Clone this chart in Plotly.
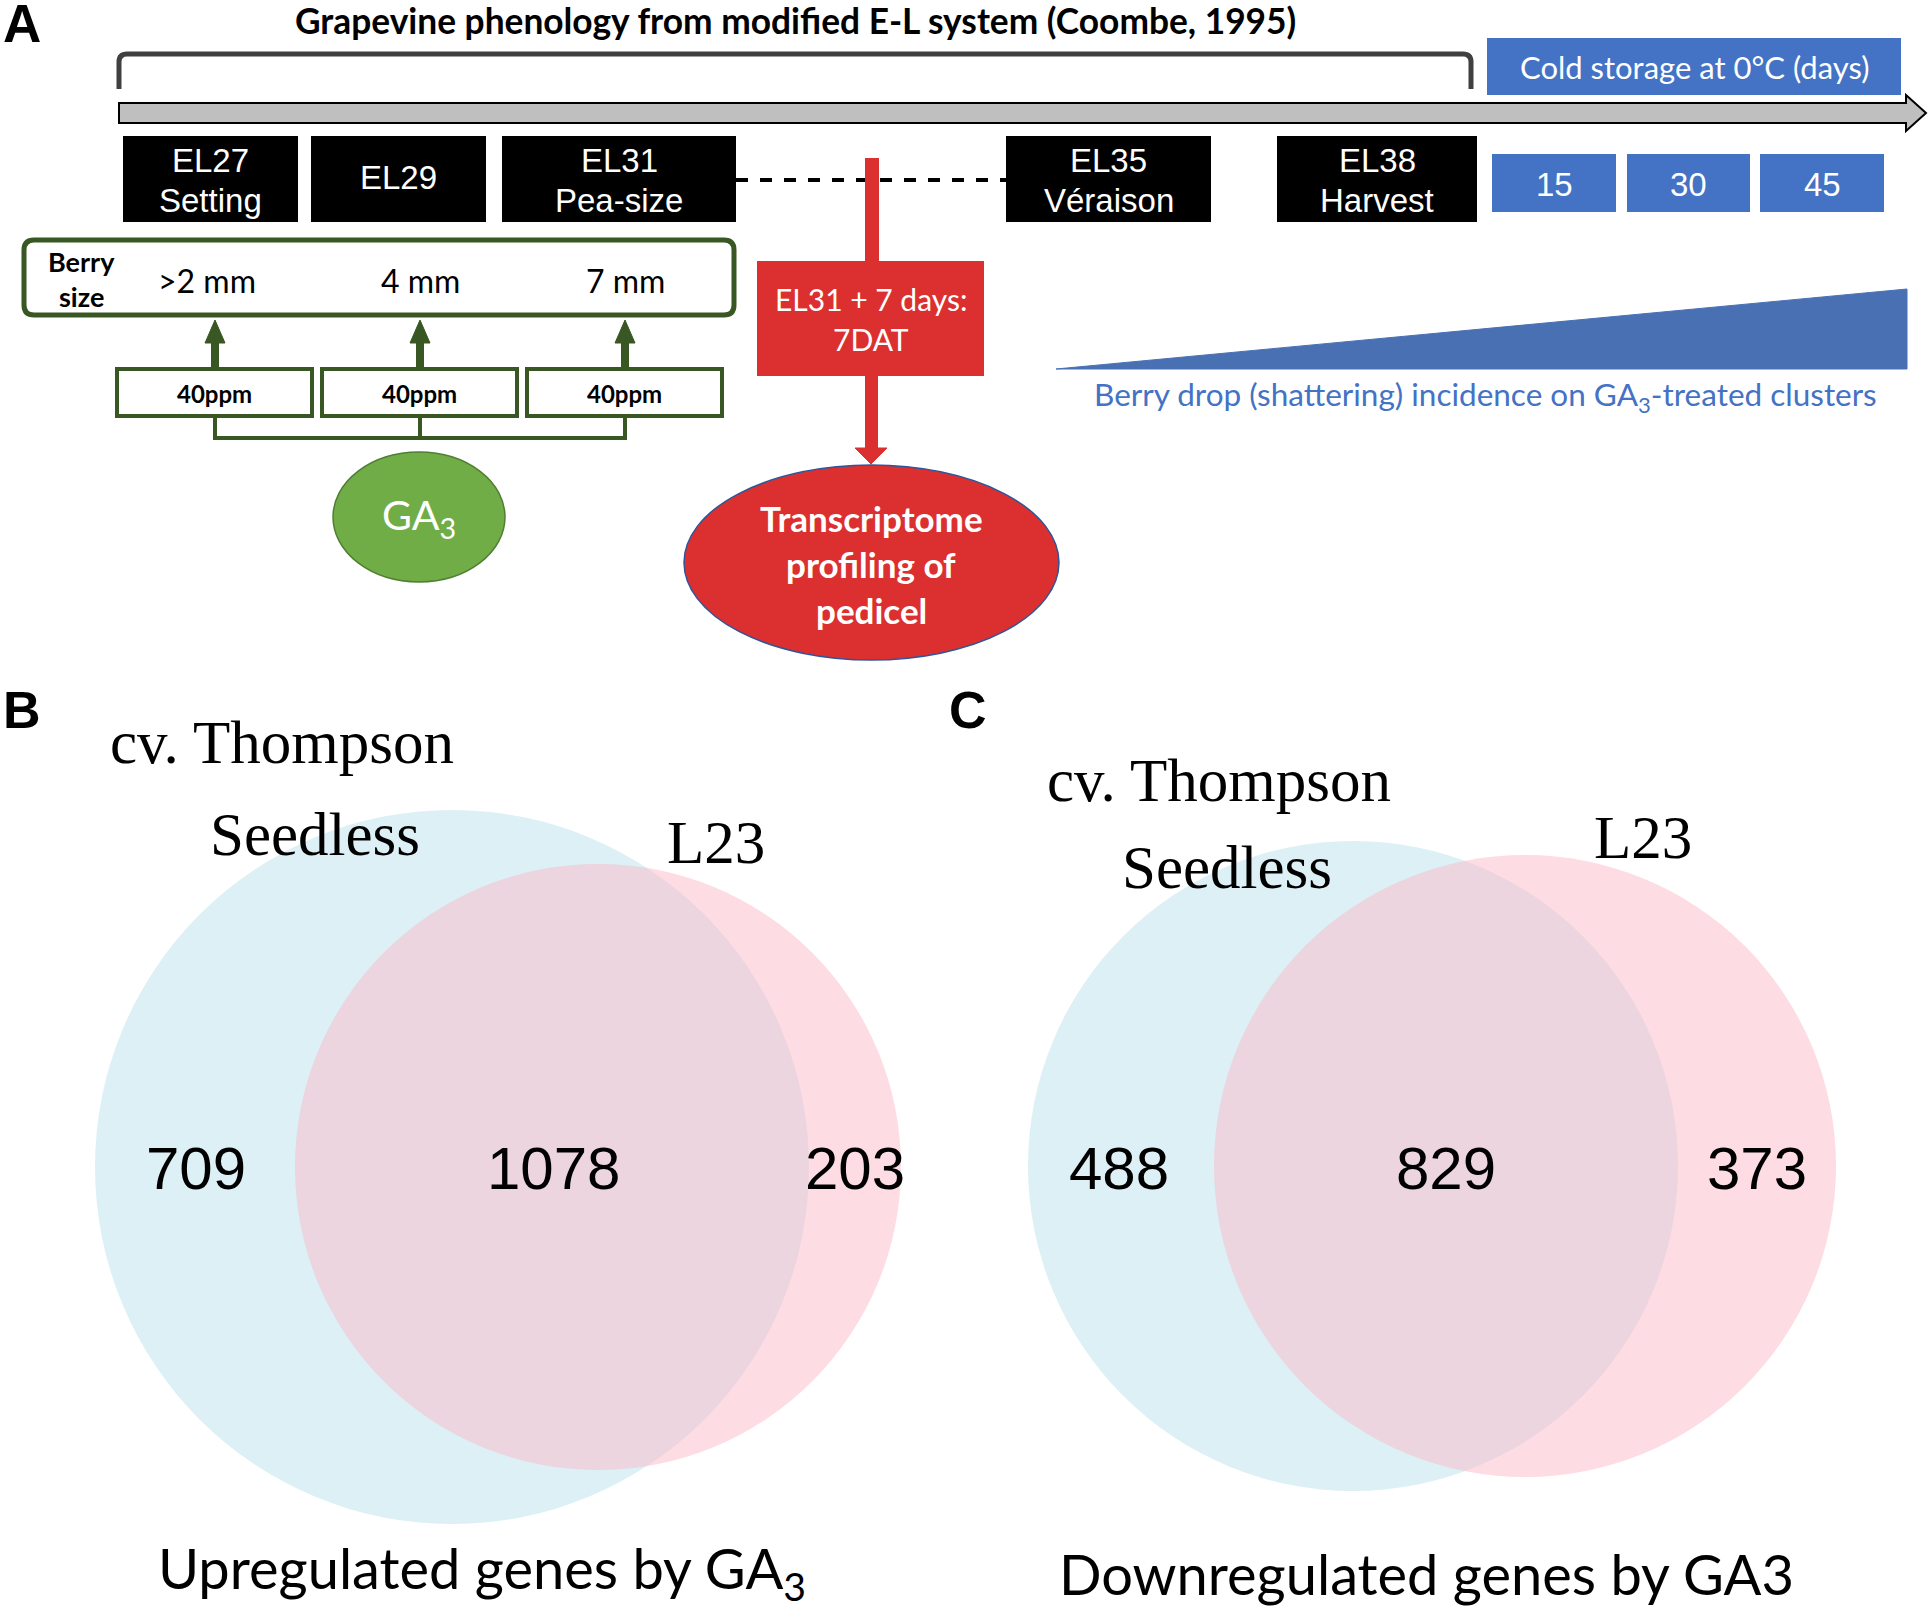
import plotly.graph_objects as go

# ---------------- data ----------------
title_text = "Grapevine phenology from modified E-L system (Coombe, 1995)"
stage_codes = ["EL27", "EL29", "EL31", "EL35", "EL38"]
stage_names = ["Setting", "", "Pea-size", "Véraison", "Harvest"]
storage_days = ["15", "30", "45"]
storage_label = "Cold storage at 0°C (days)"
berry_sizes = [">2 mm", "4 mm", "7 mm"]
ga3_doses = ["40ppm", "40ppm", "40ppm"]
sampling_lines = ["EL31 + 7 days:", "7DAT"]
profiling_lines = ["Transcriptome", "profiling of", "pedicel"]
drop_label = "Berry drop (shattering) incidence on GA<sub>3</sub>-treated clusters"

venn_sets = ["Seedless", "L23"]
venn_up = [709, 1078, 203]      # Seedless only, shared, L23 only
venn_down = [488, 829, 373]
venn_up_title = "Upregulated genes by GA<sub>3</sub>"
venn_down_title = "Downregulated genes by GA3"
cultivar = "cv. Thompson"

# ---------------- layout geometry ----------------
W, H = 1928, 1609
CAL = "Lato"
ARIAL = "Liberation Sans"
TIMES = "Liberation Serif"
DKGREEN = "#385723"
BLUE = "#4472C4"
RED = "#DC3030"

fig = go.Figure()
shapes = []
ann = []


def text(x, y, s, size, color="black", family=CAL, bold=False, xa="center", ya="middle"):
    if bold:
        s = "<b>" + s + "</b>"
    ann.append(dict(x=x, y=y, xref="x", yref="y", text=s, showarrow=False,
                    xanchor=xa, yanchor=ya,
                    font=dict(size=size, color=color, family=family)))


def rect(x0, y0, x1, y1, fill, line=None, lw=0):
    shapes.append(dict(type="rect", x0=x0, y0=y0, x1=x1, y1=y1, xref="x", yref="y",
                       fillcolor=fill, line=dict(color=line or fill, width=lw)))


def path(p, fill=None, line="black", lw=0):
    d = dict(type="path", path=p, xref="x", yref="y", line=dict(color=line, width=lw))
    if fill:
        d["fillcolor"] = fill
    shapes.append(d)


# ---- Panel A ----
text(1, 23, "A", 53, family=ARIAL, bold=True, xa="left")
text(795, 20, title_text, 35.3, bold=True)

# bracket
path("M 119 89 L 119 62 Q 119 54 127 54 L 1463 54 Q 1471 54 1471 62 L 1471 89",
     line="#404040", lw=5)
# grey timeline arrow
path("M 119 103 L 1906 103 L 1906 95 L 1926 113 L 1906 131 L 1906 123 L 119 123 Z",
     fill="#BFBFBF", line="black", lw=2)

# cold storage box
rect(1487, 38, 1901, 95, BLUE)
text(1694, 67, storage_label, 31, color="white")
stor_x = [(1492, 1616), (1627, 1750), (1760, 1884)]
for (x0, x1), d in zip(stor_x, storage_days):
    rect(x0, 154, x1, 212, BLUE)
    text((x0 + x1) / 2, 184, d, 33, color="white", family=ARIAL)

# dashed line between EL31 and EL35
shapes.append(dict(type="line", x0=736, y0=180, x1=1006, y1=180, xref="x", yref="y",
                   line=dict(color="black", width=4, dash="dash")))

# red vertical line
rect(865, 158, 879, 262, RED)

# black stage boxes
stage_x = [(123, 298), (311, 486), (502, 736), (1006, 1211), (1277, 1477)]
for (x0, x1), c, n in zip(stage_x, stage_codes, stage_names):
    rect(x0, 136, x1, 222, "black")
    cx = (x0 + x1) / 2
    if n:
        text(cx, 160, c, 33, color="white", family=ARIAL)
        text(cx, 200, n, 33, color="white", family=ARIAL)
    else:
        text(cx, 177, c, 33, color="white", family=ARIAL)

# red sampling box + arrow
rect(757, 261, 984, 376, RED)
text(871, 299, sampling_lines[0], 30, color="white")
text(871, 339, sampling_lines[1], 30, color="white")
rect(865, 376, 878, 450, RED)
path("M 855 448 L 887 448 L 871 464 Z", fill=RED, line=RED, lw=1)

# red ellipse
shapes.append(dict(type="circle", x0=684, y0=465, x1=1059, y1=660, xref="x", yref="y",
                   fillcolor=RED, line=dict(color="#2F5597", width=1.5)))
for yy, s in zip([518, 564, 610], profiling_lines):
    text(871, yy, s, 35, color="white", bold=True)

# berry size rounded box
path("M 34 240 L 724 240 Q 734 240 734 250 L 734 305 Q 734 315 724 315 L 34 315 "
     "Q 24 315 24 305 L 24 250 Q 24 240 34 240 Z", fill="white", line=DKGREEN, lw=5)
text(81, 261, "Berry", 27, bold=True)
text(81, 296, "size", 27, bold=True)
berry_x = [215, 420, 625]
for bx, s in zip(berry_x, berry_sizes):
    text(bx + (-8 if s.startswith(">") else 0), 280, s, 32)

# green up arrows
for bx in berry_x:
    rect(bx - 4, 340, bx + 4, 369, DKGREEN)
    path(f"M {bx-10} 343 L {bx+10} 343 L {bx} 320 Z", fill=DKGREEN, line=DKGREEN, lw=1)

# 40ppm boxes
ppm_x = [(117, 312), (322, 517), (527, 722)]
for (x0, x1), s in zip(ppm_x, ga3_doses):
    rect(x0, 369, x1, 416, "white", DKGREEN, 4)
    text((x0 + x1) / 2, 393, s, 24, bold=True)

# connector under boxes
path("M 215 417 L 215 438 L 625 438 L 625 417 M 420 417 L 420 438", line=DKGREEN, lw=4)

# GA3 circle
shapes.append(dict(type="circle", x0=333, y0=452, x1=505, y1=582, xref="x", yref="y",
                   fillcolor="#70AD47", line=dict(color="#507E32", width=1.5)))
text(419, 517, "GA<sub>3</sub>", 41, color="white")

# berry drop wedge
path("M 1056 369 L 1907 289 L 1907 369 Z", fill="#4A70B4", line="#4A70B4", lw=1)
text(1485, 396, drop_label, 31.5, color=BLUE)

# ---- Panels B and C (Venn) ----
BLUE_V = "rgb(220,240,245)"
PINK_V = "rgba(251,185,201,0.5)"


def venn(letter, letter_x, letter_y, cv_xy, seed_xy, l23_xy, c1, r1, c2, r2, counts, num_x,
         bottom_xy, bottom_txt):
    text(letter_x, letter_y, letter, 52, family=ARIAL, bold=True, xa="left")
    text(cv_xy[0], cv_xy[1], cultivar, 61, family=TIMES)
    shapes.append(dict(type="circle", x0=c1[0] - r1, y0=c1[1] - r1, x1=c1[0] + r1, y1=c1[1] + r1,
                       xref="x", yref="y", fillcolor=BLUE_V, line=dict(width=0), layer="below"))
    shapes.append(dict(type="circle", x0=c2[0] - r2, y0=c2[1] - r2, x1=c2[0] + r2, y1=c2[1] + r2,
                       xref="x", yref="y", fillcolor=PINK_V, line=dict(width=0), layer="below"))
    text(seed_xy[0], seed_xy[1], venn_sets[0], 61, family=TIMES)
    text(l23_xy[0], l23_xy[1], venn_sets[1], 61, family=TIMES)
    for xx, v in zip(num_x, counts):
        text(xx, 1168, str(v), 60, family=ARIAL)
    text(bottom_xy[0], bottom_xy[1], bottom_txt, 56)


venn("B", 1, 710, (282, 742), (315, 834), (716, 842), (452, 1167), 357, (598, 1167), 303,
     venn_up, [196, 553, 855], (482, 1571), venn_up_title)
venn("C", 947, 710, (1219, 780), (1227, 867), (1643, 837), (1353, 1166), 325, (1525, 1166), 311,
     venn_down, [1119, 1446, 1757], (1426, 1573), venn_down_title)

fig.update_layout(
    width=W, height=H, margin=dict(l=0, r=0, t=0, b=0),
    paper_bgcolor="white", plot_bgcolor="white",
    xaxis=dict(range=[0, W], visible=False, fixedrange=True),
    yaxis=dict(range=[H, 0], visible=False, fixedrange=True),
    shapes=shapes, annotations=ann, showlegend=False,
)
fig.write_html("out.html", config=dict(displayModeBar=False),
               post_script="document.body.style.margin='0';document.body.style.overflow='hidden';")
